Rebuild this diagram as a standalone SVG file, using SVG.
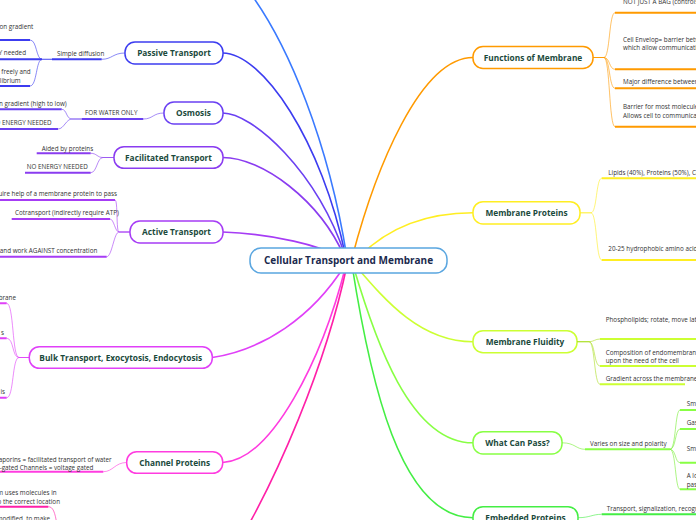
<svg xmlns="http://www.w3.org/2000/svg" width="696" height="520" viewBox="0 0 696 520">
<style>
.nd{fill:#fff;stroke-width:1.5}
.nt{font-family:"Open Sans","Noto Sans",sans-serif;font-weight:bold;font-size:8.3px;fill:#1b4a3c;text-anchor:middle}
.ctr{font-family:"Open Sans","Noto Sans",sans-serif;font-weight:bold;font-size:10px;fill:#1b2a4e;text-anchor:middle}
.t{font-family:"Open Sans","Noto Sans",sans-serif;font-size:6.3px;fill:#333}
.e{text-anchor:end}
.ul{fill:none;stroke-width:2}
.cn{fill:none;stroke-width:1;stroke-opacity:.6}
.mn{fill:none;stroke-width:1.6}
</style>
<rect width="696" height="520" fill="#fff"/>
<g id="connectors">
<path class="mn" stroke="#3a7aff" d="M240 -20 C290 40 330 150 347 258"/>
<path class="mn" stroke="#3c3cf0" d="M222.7 53 C262 53 322 140 346 258"/>
<path class="mn" stroke="#6a40f2" d="M222.7 113 C252 113 317 170 346 258"/>
<path class="mn" stroke="#8a3cf0" d="M222.7 157.5 C262 157.5 320 200 345 258"/>
<path class="mn" stroke="#a63cf5" d="M222.7 232 C272 234 322 245 345 260"/>
<path class="mn" stroke="#e040f8" d="M212.3 357.5 C262 350 312 318 345 265"/>
<path class="mn" stroke="#ff3ce0" d="M222.7 462.5 C272 460 322 360 346 265"/>
<path class="mn" stroke="#ff20a8" d="M240 540 C275 480 325 370 347 265"/>
<path class="mn" stroke="#ff9a00" d="M352 258 C375 170 420 57.5 473 57.5"/>
<path class="mn" stroke="#ffee22" d="M358 258 C390 225 430 212.8 473 212.8"/>
<path class="mn" stroke="#ccff33" d="M355 265 C385 300 420 341.7 473 341.7"/>
<path class="mn" stroke="#88ff44" d="M353 265 C375 340 410 442.8 473 442.8"/>
<path class="mn" stroke="#44ee44" d="M352 265 C370 380 400 517.7 473 517.7"/>
</g>
<g id="center"><rect class="nd" stroke="#5aa6e0" x="250" y="248" width="197" height="25" rx="11"/><text class="ctr" x="348.5" y="264">Cellular Transport and Membrane</text></g>

<g id="passive">
<rect class="nd" stroke="#3c3cf0" x="125" y="42" width="98" height="22" rx="10"/><text class="nt" x="174" y="56">Passive Transport</text>
<path class="cn" stroke="#3c3cf0" d="M125 53 C113 53 112 59.3 101.7 59.3"/>
<path class="ul" stroke="#3c3cf0" d="M52 59.3 H101.7"/>
<text class="t" x="57" y="55.5">Simple diffusion</text>
<path class="cn" stroke="#3c3cf0" d="M52 59.3 H42 C36 59.3 37 40 30 40 M52 59.3 H42 C36 59.3 37 86 30 86"/>
<path class="ul" stroke="#3c3cf0" d="M0 40 H30 M0 59.3 H42 M0 86 H30"/>
<text class="t e" x="33.3" y="29">on gradient</text>
<text class="t e" x="26" y="55">Y needed</text>
<text class="t e" x="30.7" y="74">e freely and</text>
<text class="t e" x="20.7" y="83">librium</text>
</g>

<g id="osmosis">
<rect class="nd" stroke="#6a40f2" x="164" y="102" width="59" height="22" rx="10"/><text class="nt" x="193.5" y="116">Osmosis</text>
<path class="cn" stroke="#6a40f2" d="M164 113 C153 113 153 119 143.3 119"/>
<path class="ul" stroke="#6a40f2" d="M81.7 119 H143.3"/>
<text class="t" x="85" y="115">FOR WATER ONLY</text>
<path class="cn" stroke="#6a40f2" d="M81.7 119 H72 C66 119 67 109.3 61.7 109.3 M81.7 119 H72 C66 119 64 129 58 129"/>
<path class="ul" stroke="#6a40f2" d="M0 109.3 H61.7 M0 129 H58"/>
<text class="t e" x="66.7" y="106">on gradient (high to low)</text>
<text class="t e" x="51.7" y="125">D ENERGY NEEDED</text>
</g>

<g id="facilitated">
<rect class="nd" stroke="#8a3cf0" x="114" y="146.7" width="109" height="21.6" rx="10"/><text class="nt" x="168.5" y="160.5">Facilitated Transport</text>
<path class="cn" stroke="#8a3cf0" d="M114 157.5 H103 C97 157.5 97 153.3 90.7 153.3 M114 157.5 H103 C97 157.5 97 172.7 90.7 172.7"/>
<path class="ul" stroke="#8a3cf0" d="M36.7 153.3 H90.7 M25 172.7 H90.7"/>
<text class="t" x="41.7" y="150.5">Aided by proteins</text>
<text class="t" x="26.7" y="169">NO ENERGY NEEDED</text>
</g>

<g id="active">
<rect class="nd" stroke="#a63cf5" x="130" y="221" width="93" height="22" rx="10"/><text class="nt" x="176.5" y="235">Active Transport</text>
<path class="cn" stroke="#a63cf5" d="M130 232 H119 C116 232 118 200 115 200 M130 232 H119 C115 232 114 219 110 219 M130 232 H119 C114 232 112 256.7 106.7 256.7"/>
<path class="ul" stroke="#a63cf5" d="M0 200 H115 M11.7 219 H110 M0 256.7 H106.7"/>
<text class="t e" x="117" y="196">equire help of a membrane protein to pass</text>
<text class="t" x="15" y="214.5">Cotransport (indirectly require ATP)</text>
<text class="t e" x="97.3" y="253">s and work AGAINST concentration</text>
</g>

<g id="bulk">
<rect class="nd" stroke="#e040f8" x="29.3" y="346.7" width="183" height="21.6" rx="10"/><text class="nt" x="120.8" y="360.5">Bulk Transport, Exocytosis, Endocytosis</text>
<path class="cn" stroke="#e040f8" d="M29.3 357.5 H19 C12 357.5 14 303.3 6.7 303.3 M29.3 357.5 H19 C12 357.5 14 338.3 6.7 338.3 M29.3 357.5 H19 C12 357.5 14 397.7 6.7 397.7"/>
<path class="ul" stroke="#e040f8" d="M0 303.3 H6.7 M0 338.3 H6.7 M0 397.7 H6.7"/>
<text class="t e" x="16" y="300">brane</text>
<text class="t e" x="4" y="334.5">s</text>
<text class="t e" x="5" y="394">is</text>
</g>

<g id="channel">
<rect class="nd" stroke="#ff3ce0" x="126.7" y="451.7" width="96" height="21.6" rx="10"/><text class="nt" x="174.7" y="465.5">Channel Proteins</text>
<path class="cn" stroke="#ff3ce0" d="M126.7 462.5 C115 462.5 113 471.7 103.3 471.7"/>
<path class="ul" stroke="#ff3ce0" d="M0 471.7 H103.3"/>
<text class="t e" x="111.7" y="461.5">quaporins = facilitated transport of water</text>
<text class="t e" x="93.3" y="470">n-gated Channels = voltage gated</text>
</g>

<g id="bottom-branch">
<path class="cn" stroke="#ff20a8" d="M48.3 506.7 C53 506.7 55 512 57 525"/>
<path class="ul" stroke="#ff20a8" d="M0 506.7 H48.3"/>
<text class="t e" x="56.7" y="494.5">um uses molecules in</text>
<text class="t e" x="60" y="503.5">o the correct location</text>
<text class="t e" x="50" y="521">modified, to make</text>
</g>

<g id="functions">
<rect class="nd" stroke="#ff9a00" x="473" y="46.5" width="120" height="22" rx="10"/><text class="nt" x="533" y="60.5">Functions of Membrane</text>
<path class="cn" stroke="#ff9a00" d="M593 57.5 H604 C610 57.5 609 12.7 615 12.7 M593 57.5 H604 C610 57.5 609 69.3 615 69.3 M593 57.5 H604 C610 57.5 609 88.3 615 88.3 M593 57.5 H604 C610 57.5 609 126.7 615 126.7"/>
<path class="ul" stroke="#ff9a00" d="M615 12.7 H696 M615 69.3 H696 M615 88.3 H696 M615 126.7 H696"/>
<text class="t" x="623" y="3.5">NOT JUST A BAG (controls</text>
<text class="t" x="623" y="41.5">Cell Envelop= barrier betw</text>
<text class="t" x="623" y="49.5">which allow communicatio</text>
<text class="t" x="623" y="84">Major difference between</text>
<text class="t" x="623" y="109">Barrier for most molecule:</text>
<text class="t" x="623" y="118">Allows cell to communicat</text>
</g>

<g id="membrane-proteins">
<rect class="nd" stroke="#ffee22" x="473" y="201.7" width="107" height="22.3" rx="10"/><text class="nt" x="526.5" y="215.8">Membrane Proteins</text>
<path class="cn" stroke="#ffee22" d="M580 212.8 H591 C597 212.8 596 178.3 601.7 178.3 M580 212.8 H591 C597 212.8 596 260 601.7 260"/>
<path class="ul" stroke="#ffee22" d="M601.7 178.3 H696 M601.7 260 H696"/>
<text class="t" x="608.3" y="175">Lipids (40%), Proteins (50%), Ca</text>
<text class="t" x="608.3" y="250.5">20-25 hydrophobic amino acids</text>
</g>

<g id="fluidity">
<rect class="nd" stroke="#ccff33" x="473" y="330.7" width="104" height="22" rx="10"/><text class="nt" x="525" y="344.7">Membrane Fluidity</text>
<path class="cn" stroke="#aadd22" d="M577 341.7 H589 C594 341.7 595 339 600 339 M577 341.7 H589 C595 341.7 594 366 600 366 M577 341.7 H589 C595 341.7 594 384.3 600 384.3"/>
<path class="ul" stroke="#ccff33" d="M600 339 H696 M600 366 H696 M600 384.3 H685"/>
<text class="t" x="605.7" y="321.5">Phospholipids; rotate, move latte</text>
<text class="t" x="605.7" y="354.5">Composition of endomembrane</text>
<text class="t" x="605.7" y="363">upon the need of the cell</text>
<text class="t" x="605.7" y="380.5">Gradient across the membrane</text>
</g>

<g id="what-can-pass">
<rect class="nd" stroke="#88ff44" x="473" y="431.7" width="89" height="22.3" rx="10"/><text class="nt" x="517.5" y="445.8">What Can Pass?</text>
<path class="cn" stroke="#77ee33" d="M562 442.8 C575 442.8 576 449.3 585 449.3"/>
<path class="ul" stroke="#88ff44" d="M585 449.3 H670"/>
<text class="t" x="590" y="445.5">Varies on size and polarity</text>
<path class="cn" stroke="#77ee33" d="M670 449.3 C676 449.3 675 410 680 410 M670 449.3 C676 449.3 675 429 680 429 M670 449.3 C676 449.3 675 462.7 680 462.7 M670 449.3 C676 449.3 675 489.3 680 489.3"/>
<path class="ul" stroke="#88ff44" d="M680 410 H696 M680 429 H696 M680 462.7 H696 M680 489.3 H696"/>
<text class="t" x="686.7" y="405.5">Sm</text>
<text class="t" x="686.7" y="424.5">Gas</text>
<text class="t" x="686.7" y="450.5">Sm</text>
<text class="t" x="686.7" y="478">A lo</text>
<text class="t" x="686.7" y="486.5">pas</text>
</g>

<g id="embedded">
<rect class="nd" stroke="#44ee44" x="473" y="506.7" width="105" height="22" rx="10"/><text class="nt" x="525.5" y="521">Embedded Proteins</text>
<path class="cn" stroke="#44ee44" d="M578 517.7 C590 517.7 592 514.3 601.7 514.3"/>
<path class="ul" stroke="#44ee44" d="M601.7 514.3 H696"/>
<text class="t" x="606.7" y="511">Transport, signalization, recogni</text>
</g>
</svg>
